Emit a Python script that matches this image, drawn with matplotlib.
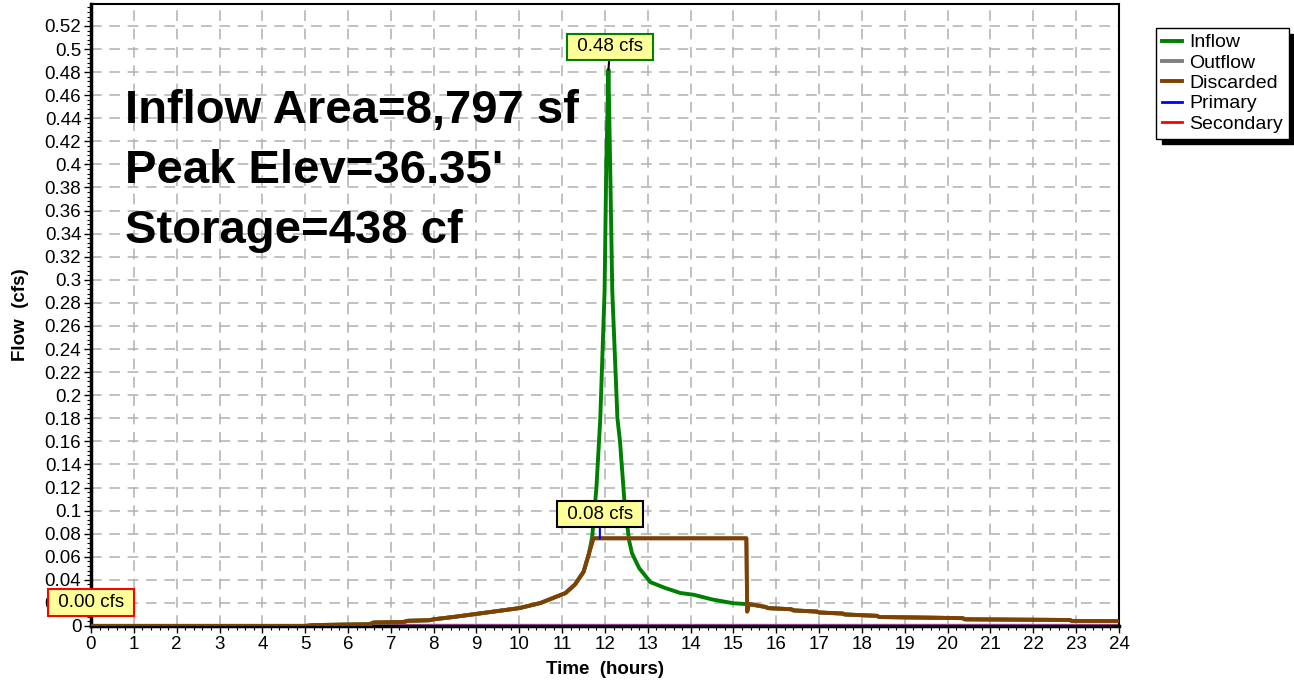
import matplotlib
matplotlib.use("Agg")
import matplotlib.pyplot as plt
from matplotlib.ticker import MultipleLocator

plt.rcParams['font.family'] = ['Liberation Sans', 'DejaVu Sans']

# hydrograph values (hours, cfs)
rise_t = [0.0, 5.0, 5.2, 6.5, 6.6, 7.3, 7.4, 7.9, 8.0, 8.5, 9.0, 9.5, 10.0, 10.5, 11.08, 11.3, 11.5]
rise_q = [0.0, 0.0, 0.0008, 0.0015, 0.003, 0.0035, 0.0045, 0.005, 0.0058, 0.008, 0.0105, 0.013, 0.0155, 0.02, 0.0286, 0.036, 0.047]

peak_t = [11.62, 11.70, 11.80, 11.89, 11.99, 12.03, 12.08, 12.12, 12.17, 12.29, 12.35, 12.45, 12.56, 12.63, 12.8, 13.06, 13.4, 13.76, 14.08, 14.5, 15.0, 15.3]
peak_q = [0.062, 0.077, 0.12, 0.18, 0.29, 0.40, 0.482, 0.40, 0.29, 0.18, 0.16, 0.11, 0.0745, 0.063, 0.05, 0.038, 0.033, 0.0286, 0.027, 0.023, 0.0197, 0.019]

tail_t = [15.36, 15.75, 15.8, 16.35, 16.4, 16.95, 17.0, 17.55, 17.6, 18.35, 18.4, 20.35, 20.4, 22.85, 22.9, 24.0]
tail_q = [0.019, 0.0165, 0.0155, 0.0145, 0.0135, 0.0125, 0.0117, 0.0108, 0.0100, 0.0088, 0.0078, 0.0068, 0.0058, 0.0052, 0.0044, 0.0043]

# discarded: capped at the outlet rate while inflow is high
cap_t = [11.73, 15.30, 15.32]
cap_q = [0.076, 0.076, 0.0125]

inflow_t = rise_t + peak_t + tail_t
inflow_q = rise_q + peak_q + tail_q
disc_t = rise_t + cap_t + tail_t
disc_q = rise_q + cap_q + tail_q
zero_t = [0.0, 24.0]
zero_q = [0.0, 0.0]

x_ticks = list(range(0, 25))
y_ticks = [round(0.02 * i, 2) for i in range(27)]
y_labels = ["0"] + [f"{v:g}" for v in y_ticks[1:]]

fig = plt.figure(figsize=(12.94, 6.84), dpi=100)
ax = fig.add_axes([91 / 1294, 58 / 684, 1028 / 1294, 622 / 684])

ax.plot(inflow_t, inflow_q, color="#008000", lw=2.8, label="Inflow", zorder=3)
ax.plot(disc_t, disc_q, color="#808080", lw=2.8, label="Outflow", zorder=4)
ax.plot(disc_t, disc_q, color="#7f4000", lw=2.8, label="Discarded", zorder=5)
ax.plot(zero_t, zero_q, color="#0000ff", lw=2, label="Primary", zorder=1)
ax.plot(zero_t, zero_q, color="#ff0000", lw=2, label="Secondary", zorder=1)
# primary + secondary overlap just above the axis line
ax.plot(zero_t, [0.0018, 0.0018], color="#c050c0", lw=1, zorder=2)

ax.set_xlim(0, 24)
ax.set_ylim(0, 0.539)
ax.set_xticks(x_ticks)
ax.set_yticks(y_ticks)
ax.set_yticklabels(y_labels)
ax.xaxis.set_minor_locator(MultipleLocator(0.2))
ax.yaxis.set_minor_locator(MultipleLocator(0.004))
ax.tick_params(which="major", length=5, width=1, labelsize=13.5, direction="out", pad=2)
ax.tick_params(which="minor", length=3, width=0.8, direction="out")

ax.grid(True, which="major", color="#b0b0b0", linestyle=(0, (7, 5)), linewidth=1.1)
ax.set_axisbelow(True)
for side in ["left", "bottom"]:
    ax.spines[side].set_linewidth(2.5)
for side in ["top", "right"]:
    ax.spines[side].set_linewidth(1.5)

ax.set_xlabel("Time  (hours)", fontsize=13.5, fontweight="bold", labelpad=6)
ax.set_ylabel("Flow  (cfs)", fontsize=13.5, fontweight="bold", labelpad=11)

# big summary text
info = ["Inflow Area=8,797 sf", "Peak Elev=36.35'", "Storage=438 cf"]
for i, line in enumerate(info):
    ax.text(0.0335, 0.808 - i * 0.0965, line, transform=ax.transAxes,
            fontsize=34, fontweight="bold", color="black", va="baseline", ha="left", zorder=7)

# peak labels
box = dict(boxstyle="square,pad=0.25", facecolor="#ffff99", linewidth=1.5)
ax.annotate(" 0.48 cfs ", xy=(12.08, 0.482), xytext=(12.12, 0.502), fontsize=13.5,
            ha="center", va="center", bbox=dict(box, edgecolor="#008000"),
            arrowprops=dict(arrowstyle="-", color="black", lw=1.5, shrinkA=0, shrinkB=0), zorder=8)
ax.annotate(" 0.08 cfs ", xy=(11.88, 0.076), xytext=(11.88, 0.097), fontsize=13.5,
            ha="center", va="center", bbox=dict(box, edgecolor="black"),
            arrowprops=dict(arrowstyle="-", color="#0000ff", lw=1.5, shrinkA=0, shrinkB=0), zorder=8)
ax.annotate(" 0.00 cfs ", xy=(0.0, 0.0), xytext=(0.0, 0.0205), fontsize=13.5,
            ha="center", va="center", bbox=dict(box, edgecolor="#ff0000"),
            annotation_clip=False, zorder=8)

fig.legend(loc="upper left", bbox_to_anchor=(1156 / 1294, 1 - 28 / 684), fontsize=14,
           frameon=True, fancybox=False, edgecolor="black", framealpha=1,
           borderaxespad=0, borderpad=0.3, labelspacing=0.14, handlelength=1.05,
           handletextpad=0.35, shadow={"ox": 4, "oy": -4, "facecolor": "black",
                                       "edgecolor": "black", "alpha": 1})

fig.savefig("out.png", dpi=100)
